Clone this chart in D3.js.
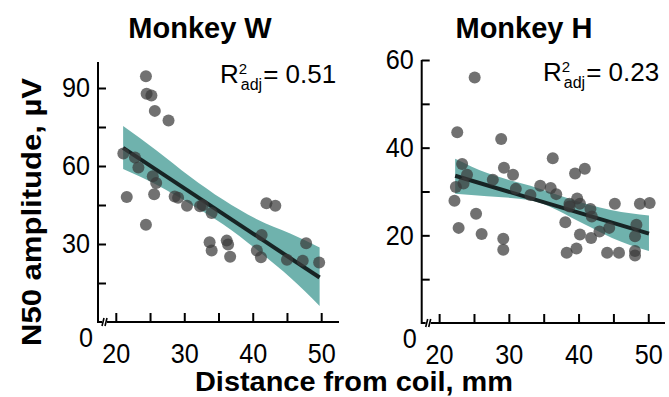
<!DOCTYPE html>
<html>
<head>
<meta charset="utf-8">
<script src="https://cdn.jsdelivr.net/npm/d3@7"></script>
<style>
  html, body { margin: 0; padding: 0; background: #fff; }
  svg { display: block; font-family: "Liberation Sans", Arial, Helvetica, sans-serif; }
</style>
</head>
<body>
<svg id="chart" width="669" height="397"></svg>
<script>
// ---------------- DATA ----------------
const panelTitles = ["Monkey W", "Monkey H"];
const r2Values = ["0.51", "0.23"];

// Monkey W scatter (distance mm, N50 amplitude µV)
const distW = [24.4, 24.5, 25.2, 25.7, 27.7, 21.1, 22.8, 23.3, 25.4, 25.9, 21.6, 25.6, 28.6, 29.1, 24.4, 30.4, 32.3, 32.7, 34.0, 33.7, 34.0, 36.2, 36.4, 36.7, 42.0, 43.3, 41.3, 40.6, 41.2, 45.0, 47.3, 47.8, 49.7];
const ampW  = [94.5, 87.8, 87.1, 81.2, 77.5, 64.8, 63.3, 59.4, 56.1, 53.5, 48.1, 49.1, 48.3, 47.8, 37.4, 44.7, 44.5, 44.9, 41.9, 30.7, 27.5, 31.3, 29.8, 25.1, 45.7, 44.7, 33.5, 27.5, 24.9, 23.9, 23.6, 30.3, 22.9];
// Monkey W fit line and confidence band
const fitXW = [21.07, 49.77];
const fitYW = [67.0, 17.1];
const bandXW  = [21.07, 25.95, 30.83, 35.71, 40.6, 45.47, 49.77];
const bandHiW = [75.4, 66.0, 56.0, 47.0, 39.5, 34.0, 28.7];
const bandLoW = [58.8, 52.8, 45.5, 37.5, 27.8, 17.1, 6.2];

// Monkey H scatter
const distH = [25.1, 22.6, 28.9, 36.3, 39.5, 40.9, 23.3, 24.0, 29.3, 30.6, 27.7, 23.5, 22.4, 22.2, 31.0, 34.5, 36.0, 36.8, 33.1, 38.7, 39.8, 40.2, 38.1, 41.7, 41.9, 43.0, 44.4, 45.2, 40.2, 41.8, 48.3, 48.1, 48.1, 48.1, 48.8, 50.2, 45.8, 44.1, 38.3, 39.7, 29.2, 29.2, 25.3, 22.8, 26.1, 38.7];
const ampH  = [56.0, 43.5, 42.0, 37.6, 34.1, 35.2, 36.3, 33.8, 35.4, 33.8, 32.7, 31.8, 31.0, 27.9, 30.6, 31.3, 30.8, 29.4, 29.2, 27.2, 28.4, 27.2, 23.0, 26.0, 24.3, 20.9, 21.7, 27.2, 20.2, 19.4, 22.4, 19.8, 16.4, 15.4, 27.2, 27.4, 16.0, 16.0, 16.0, 17.0, 19.2, 16.7, 24.9, 21.7, 20.3, 26.6];
const fitXH = [22.3, 50.1];
const fitYH = [33.6, 20.4];
const bandXH  = [22.3, 26.9, 33.1, 41.0, 44.8, 50.1];
const bandHiH = [37.5, 34.2, 31.3, 27.2, 25.7, 24.5];
const bandLoH = [29.5, 28.9, 28.0, 22.4, 19.4, 16.4];

// Ticks
const xTicks = [20, 25, 30, 35, 40, 45, 50];
const xTickLabels = [20, 30, 40, 50];
const yTicksW = [15, 30, 45, 60, 75, 90];
const yTickLabelsW = [30, 60, 90];
const yTicksH = [10, 20, 30, 40, 50, 60];
const yTickLabelsH = [20, 40, 60];

const xLabel = "Distance from coil, mm";
const yLabel = "N50 amplitude, µV";

// ---------------- DRAW ----------------
const svg = d3.select("#chart");
const TEAL = "#6fb2ad";
const FONT_TICK = 28;
const SQUEEZE = 0.9;

const panels = [
  {
    title: panelTitles[0], r2: r2Values[0],
    x: d3.scaleLinear().domain([17.4, 52.6]).range([98, 339]),
    y: d3.scaleLinear().domain([0, 100]).range([322, 62]),
    dist: distW, amp: ampW, fitX: fitXW, fitY: fitYW,
    bandX: bandXW, bandHi: bandHiW, bandLo: bandLoW,
    yTicks: yTicksW, yLabels: yTickLabelsW,
    titleX: 200, r2X: 220, r2Y: 83
  },
  {
    title: panelTitles[1], r2: r2Values[1],
    x: d3.scaleLinear().domain([17.5, 52.4]).range([421.7, 665]),
    y: d3.scaleLinear().domain([0, 60]).range([323, 60]),
    dist: distH, amp: ampH, fitX: fitXH, fitY: fitYH,
    bandX: bandXH, bandHi: bandHiH, bandLo: bandLoH,
    yTicks: yTicksH, yLabels: yTickLabelsH,
    titleX: 524, r2X: 543, r2Y: 81
  }
];

panels.forEach(p => {
  const g = svg.append("g");
  const x = p.x, y = p.y;
  const x0 = x.range()[0], x1 = x.range()[1];
  const y0 = y.range()[0], yTop = y.range()[1];

  // title
  g.append("text").attr("x", p.titleX).attr("y", 38)
    .attr("text-anchor", "middle").attr("font-size", 29).attr("font-weight", "bold")
    .attr("fill", "#000").text(p.title);

  // confidence band
  const bandData = p.bandX.map((d, i) => ({x: d, lo: p.bandLo[i], hi: p.bandHi[i]}));
  g.append("path").datum(bandData)
    .attr("d", d3.area().x(d => x(d.x)).y0(d => y(d.lo)).y1(d => y(d.hi)).curve(d3.curveMonotoneX))
    .attr("fill", TEAL);

  // fit line
  const fitData = p.fitX.map((d, i) => ({x: d, y: p.fitY[i]}));
  g.append("path").datum(fitData)
    .attr("d", d3.line().x(d => x(d.x)).y(d => y(d.y)))
    .attr("stroke", "#172424").attr("stroke-width", 4).attr("fill", "none");

  // points
  g.selectAll("circle.pt").data(p.dist.map((d, i) => ({x: d, y: p.amp[i]})))
    .join("circle").attr("class", "pt")
    .attr("cx", d => x(d.x)).attr("cy", d => y(d.y)).attr("r", 6)
    .attr("fill", "#3a3a3a").attr("fill-opacity", 0.72);

  // y axis
  const yAxis = d3.axisLeft(y).tickValues(p.yTicks).tickSize(-8).tickPadding(8)
    .tickFormat(d => p.yLabels.includes(d) ? d : "");
  const ya = g.append("g").attr("transform", `translate(${x0},0)`).call(yAxis);
  ya.select(".domain").remove();
  ya.selectAll(".tick line").attr("stroke", "#000").attr("stroke-width", 2);
  ya.selectAll(".tick text").attr("font-size", FONT_TICK).attr("fill", "#000")
    .attr("font-family", "Liberation Sans, Arial, sans-serif")
    .attr("x", -8 / SQUEEZE).attr("transform", `scale(${SQUEEZE},1)`);

  // x axis
  const xAxis = d3.axisBottom(x).tickValues(xTicks).tickSize(-9).tickPadding(21)
    .tickFormat(d => xTickLabels.includes(d) ? d : "");
  const xa = g.append("g").attr("transform", `translate(0,${y0})`).call(xAxis);
  xa.select(".domain").remove();
  xa.selectAll(".tick line").attr("stroke", "#000").attr("stroke-width", 2);
  xa.selectAll(".tick text").attr("font-size", FONT_TICK).attr("fill", "#000")
    .attr("font-family", "Liberation Sans, Arial, sans-serif")
    .attr("transform", `scale(${SQUEEZE},1)`);

  // axis lines with break
  g.append("path")
    .attr("d", `M${x0},${yTop}V${y0}H${x0 + 4}`)
    .attr("stroke", "#000").attr("stroke-width", 2).attr("fill", "none");
  g.append("path")
    .attr("d", `M${x0 + 4},${y0 + 4}L${x0 + 6},${y0 - 4}M${x0 + 7},${y0 + 4}L${x0 + 9},${y0 - 4}`)
    .attr("stroke", "#000").attr("stroke-width", 1.6).attr("fill", "none");
  g.append("path")
    .attr("d", `M${x0 + 9},${y0}H${x1}`)
    .attr("stroke", "#000").attr("stroke-width", 2).attr("fill", "none");

  // zero label
  g.append("g").attr("transform", `translate(${x0 - 5},${y0 + 25}) scale(${SQUEEZE},1)`)
    .append("text").attr("text-anchor", "end").attr("font-size", FONT_TICK)
    .attr("fill", "#000").text(y.domain()[0]);

  // R² adj label
  const rt = g.append("text").attr("x", p.r2X).attr("y", p.r2Y)
    .attr("font-size", 26).attr("fill", "#000").text("R");
  const rw = rt.node().getComputedTextLength();
  g.append("text").attr("x", p.r2X + rw).attr("y", p.r2Y - 9)
    .attr("font-size", 15).attr("fill", "#000").text("2");
  const at = g.append("text").attr("x", p.r2X + rw + 2).attr("y", p.r2Y + 7)
    .attr("font-size", 16).attr("fill", "#000").text("adj");
  const aw = at.node().getComputedTextLength();
  g.append("text").attr("x", p.r2X + rw + 2 + aw + 1).attr("y", p.r2Y)
    .attr("font-size", 26).attr("fill", "#000").text("= " + p.r2);
});

// shared axis labels
svg.append("text").attr("x", 354).attr("y", 391)
  .attr("text-anchor", "middle").attr("font-size", 28).attr("font-weight", "bold")
  .attr("textLength", 318).attr("lengthAdjust", "spacingAndGlyphs")
  .attr("fill", "#000").text(xLabel);

svg.append("text")
  .attr("transform", "translate(41,212) rotate(-90)")
  .attr("text-anchor", "middle").attr("font-size", 28).attr("font-weight", "bold")
  .attr("textLength", 268).attr("lengthAdjust", "spacingAndGlyphs")
  .attr("fill", "#000").text(yLabel);
</script>
</body>
</html>
